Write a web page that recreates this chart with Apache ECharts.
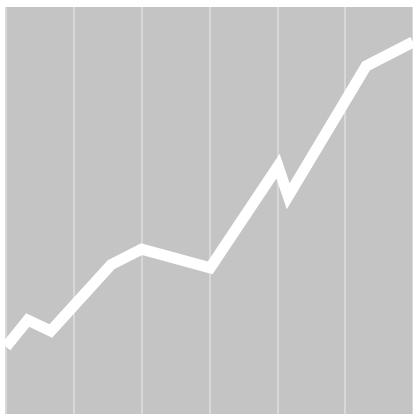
<!DOCTYPE html>
<html>
<head>
<meta charset="utf-8">
<script src="https://cdn.jsdelivr.net/npm/echarts@6/dist/echarts.min.js"></script>
<style>
    html, body { margin: 0; padding: 0; background: #fff; }
    #chart { width: 413px; height: 414px; }
</style>
</head>
<body>
<div id="chart"></div>
<script>
// x positions (value axis, 0..6) and y values (0..100)
const xValues = [0, 0.32, 0.66, 1.55, 2.0, 3.01, 4.01, 4.16, 5.31, 6.0]
const yValues = [16.5, 23.1, 20.4, 36.7, 40.5, 35.9, 60.9, 53.5, 85.5, 91.4]

const lineData = xValues.map((x, i) => [x, yValues[i]])

const chart = echarts.init(document.getElementById('chart'))

chart.setOption({
    animation: false,
    backgroundColor: '#fff',
    grid: {
        left: 6,
        right: 0,
        top: 7,
        bottom: 0,
        show: true,
        backgroundColor: '#c4c4c4',
        borderWidth: 0
    },
    xAxis: {
        type: 'value',
        min: 0,
        max: 6,
        interval: 1,
        axisLine: { show: false },
        axisTick: { show: false },
        axisLabel: { show: false },
        splitLine: {
            show: true,
            lineStyle: { color: '#d8d8d8', width: 2 }
        }
    },
    yAxis: {
        type: 'value',
        min: 0,
        max: 100,
        axisLine: { show: false },
        axisTick: { show: false },
        axisLabel: { show: false },
        splitLine: { show: false }
    },
    series: [{
        type: 'line',
        data: lineData,
        showSymbol: false,
        lineStyle: { color: '#fff', width: 11, join: 'miter' }
    }]
})
</script>
</body>
</html>
